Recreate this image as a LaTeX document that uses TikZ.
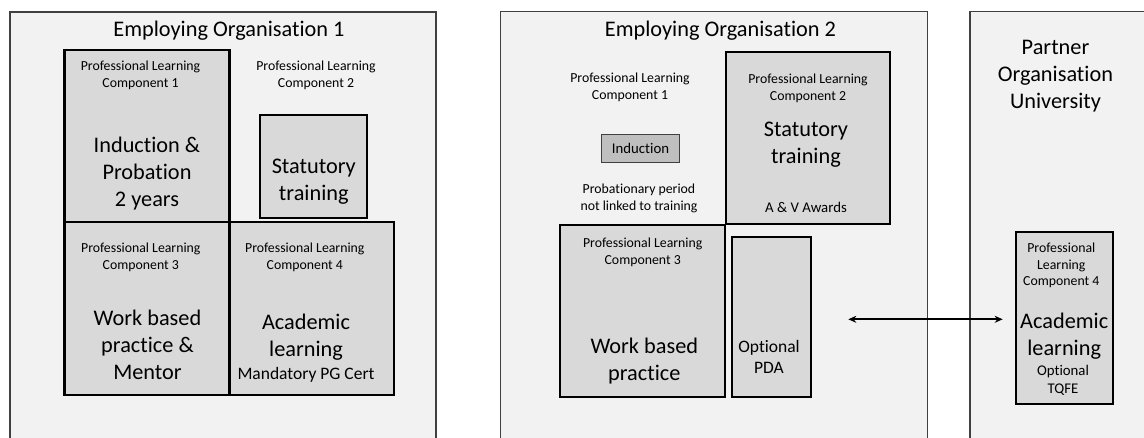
\documentclass[tikz,border=0pt]{standalone}
\usepackage{fontspec}
\setmainfont{Carlito}[Ligatures={NoCommon,NoRare,NoDiscretionary}]
\usetikzlibrary{arrows.meta}

\definecolor{orgfill}{HTML}{F2F2F2}
\definecolor{boxfill}{HTML}{D9D9D9}
\definecolor{indfill}{HTML}{BFBFBF}
\definecolor{edgegrey}{HTML}{404040}

\newcommand\bigtxt{\fontsize{22.3}{27}\selectfont}
\newcommand\midtxt{\fontsize{17.5}{21}\selectfont}
\newcommand\subtxt{\fontsize{14.8}{17.8}\selectfont}
\newcommand\smalltxt{\fontsize{13.8}{16.8}\selectfont}

\begin{document}
\begin{tikzpicture}
      [%%%%%%%%%%%%%%%%%%%%%%%%%%%%%%
      x=1pt,y=-1pt,
      org/.style={rectangle,draw=edgegrey,fill=orgfill,line width=1.3pt,
        inner sep=0pt,outer sep=0pt,anchor=north west},
      box/.style={rectangle,draw=black,fill=boxfill,line width=2.2pt,inner sep=0pt},
      indbox/.style={rectangle,draw=edgegrey,fill=indfill,line width=1.2pt,inner sep=0pt},
      lbl/.style={align=center,inner sep=0pt,font=\smalltxt},
      big/.style={align=center,inner sep=0pt,font=\bigtxt},
      mid/.style={align=center,inner sep=0pt,font=\midtxt},
      sub/.style={align=center,inner sep=0pt,font=\subtxt},
      link/.style={{Stealth[length=8pt,width=7pt]}-{Stealth[length=8pt,width=7pt]},line width=2pt},
      ]%%%%%%%%%%%%%%%%%%%%%%%%%%%%%%

      \useasboundingbox (0,0) rectangle (1144,437);
      \clip (0,0) rectangle (1144,437);
      \fill[white] (0,0) rectangle (1144,437);

      % the three organisations
      \node[org,minimum width=426,minimum height=460] (org1) at (10,12){};
      \node[org,minimum width=426.6,minimum height=460] (org2) at (500.7,11.7){};
      \node[org,minimum width=200,minimum height=460] (partner) at (970,11.7){};

      \node[big] (org1title) at (229,31){Employing Organisation 1};
      \node[big] (org2title) at (720.5,31){Employing Organisation 2};
      \node[big] (partnertitle) at (1055.5,76){Partner\\Organisation\\University};

      % organisation 1
      \node[box,minimum width=165,minimum height=172] (plc1) at (147,136){};
      \node[box,minimum width=106.7,minimum height=103] (stat1) at (313.3,166.5){};
      \node[box,minimum width=165,minimum height=173] (plc3) at (147,308.5){};
      \node[box,minimum width=164.3,minimum height=173] (plc4) at (311.8,308.5){};

      \node[lbl] (plc1lbl) at (140.5,75){Professional Learning\\Component 1};
      \node[lbl] (plc2lbl) at (316,75){Professional Learning\\Component 2};
      \node[big] (induct1) at (147,174){Induction \&\\Probation\\2 years};
      \node[big] (stat1txt) at (313.8,182){Statutory\\training};
      \node[lbl] (plc3lbl) at (140.8,257.5){Professional Learning\\Component 3};
      \node[big] (work1) at (147.5,345){Work based\\practice \&\\Mentor};
      \node[lbl] (plc4lbl) at (304.8,257.5){Professional Learning\\Component 4};
      \node[big] (acad1) at (306,337.5){Academic\\learning};
      \node[mid] (pgcert) at (306,375){Mandatory PG Cert};

      % organisation 2
      \node[box,minimum width=164.6,minimum height=172.6] (stat2) at (808,138){};
      \node[box,minimum width=164.7,minimum height=172.3] (plc23) at (642.7,310.8){};
      \node[box,minimum width=79.3,minimum height=159.7] (pda) at (771.3,317.2){};
      \node[indbox,minimum width=78.4,minimum height=27.6] (induct2) at (640.5,148.5){};

      \node[lbl] (plc21lbl) at (630,87.5){Professional Learning\\Component 1};
      \node[sub] (induct2txt) at (640.5,148.5){Induction};
      \node[lbl] (probation) at (639,198.3){Probationary period\\not linked to training};
      \node[lbl] (plc22lbl) at (808,88.5){Professional Learning\\Component 2};
      \node[big] (stat2txt) at (806,144.5){Statutory\\training};
      \node[sub] (awards) at (806,207){A \& V Awards};
      \node[lbl] (plc23lbl) at (642.7,252){Professional Learning\\Component 3};
      \node[big] (work2) at (644.3,361.3){Work based\\practice};
      \node[mid] (pdatxt) at (769,357){Optional\\PDA};

      % partner organisation
      \node[box,minimum width=97.6,minimum height=172] (plc24) at (1064.5,317.7){};
      \node[lbl] (plc24lbl) at (1061.3,265.5){Professional\\Learning\\Component 4};
      \node[big] (acad2) at (1064.2,335.8){Academic\\learning};
      \node[sub] (tqfe) at (1063,380.5){Optional\\TQFE};

      \coordinate (linkleft) at (848.3,319.3);
      \coordinate (linkright) at (1002.7,319.3);
      \draw[link] (linkleft) -- (linkright);
    \end{tikzpicture}
\end{document}
